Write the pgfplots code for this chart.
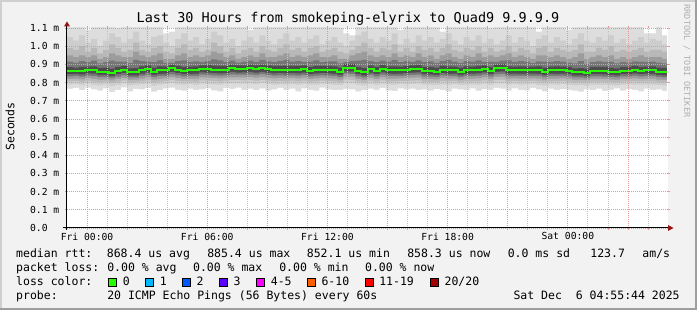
\documentclass[border=0pt]{standalone}
\usepackage{pgfplots}
\pgfplotsset{compat=1.18}
\usepackage{pgfplotstable}
\usepackage{fontspec}
\setmainfont{DejaVu Sans Mono}
\usetikzlibrary{arrows.meta}

\definecolor{bg}{RGB}{242,242,242}
\definecolor{shA}{RGB}{207,207,207}
\definecolor{shB}{RGB}{158,158,158}
\definecolor{mgrid}{RGB}{232,150,150}
\definecolor{mingrid}{RGB}{195,195,195}
\definecolor{arrowc}{RGB}{150,20,20}
\definecolor{wm}{RGB}{175,175,175}
\definecolor{s1}{RGB}{221,221,221}
\definecolor{s2}{RGB}{205,205,205}
\definecolor{s3}{RGB}{184,184,184}
\definecolor{s4}{RGB}{156,156,156}
\definecolor{s5}{RGB}{118,118,118}
\definecolor{s6}{RGB}{76,76,76}
\definecolor{medc}{RGB}{38,255,0}
\definecolor{lA}{RGB}{38,255,0}
\definecolor{lB}{RGB}{0,184,255}
\definecolor{lC}{RGB}{0,89,255}
\definecolor{lD}{RGB}{94,0,255}
\definecolor{lE}{RGB}{255,0,255}
\definecolor{lF}{RGB}{255,94,0}
\definecolor{lG}{RGB}{255,0,0}
\definecolor{lH}{RGB}{161,0,0}

\newcommand\titlef{\fontsize{13.5}{14}\selectfont}
\newcommand\legf{\fontsize{11.5}{12}\selectfont}
\newcommand\axf{\fontsize{9.7}{10}\selectfont}
\newcommand\wmf{\fontsize{8.5}{9}\selectfont}

\pgfplotstableread{
x med t1 t2 t3 t4 t5 t6 b6 b5 b4 b3 b2 b1
-1.0 .864 1.12 1.05 .99 .95 .915 .885 .846 .834 .820 .806 .790 .765
-0.7 .864 1.12 1.03 .98 .94 .910 .882 .848 .836 .822 .808 .792 .770
-0.4 .864 1.12 1.06 1.00 .95 .918 .886 .845 .832 .818 .804 .786 .758
-0.1 .867 1.09 1.02 .97 .94 .912 .888 .850 .838 .824 .810 .795 .772
0.2 .867 1.12 1.04 .99 .95 .920 .889 .849 .835 .820 .805 .789 .762
0.5 .860 1.12 1.00 .96 .93 .905 .880 .842 .830 .816 .802 .785 .755
0.8 .860 1.12 1.03 .98 .94 .912 .882 .843 .831 .818 .805 .790 .768
1.1 .853 1.12 1.07 1.01 .96 .920 .876 .836 .826 .812 .798 .780 .748
1.4 .864 1.10 1.05 .99 .95 .915 .886 .846 .833 .819 .804 .787 .760
1.7 .871 1.12 1.02 .97 .94 .915 .892 .852 .840 .826 .812 .796 .774
2.0 .856 1.12 1.04 .98 .94 .908 .878 .839 .828 .815 .801 .784 .752
2.3 .856 1.12 1.08 1.02 .97 .925 .879 .840 .829 .816 .803 .788 .765
2.6 .867 1.12 1.03 .98 .95 .918 .889 .849 .836 .821 .806 .790 .763
2.9 .875 1.12 1.01 .97 .94 .915 .895 .856 .843 .828 .812 .795 .770
3.2 .860 1.12 1.05 .99 .95 .912 .882 .842 .830 .816 .801 .783 .750
3.5 .867 1.12 1.06 1.00 .96 .922 .889 .848 .835 .820 .805 .788 .758
3.8 .867 1.07 1.02 .97 .93 .908 .887 .849 .837 .823 .809 .793 .768
4.1 .878 1.08 1.00 .96 .93 .910 .897 .858 .845 .830 .814 .797 .772
4.4 .871 1.12 1.04 .99 .95 .918 .892 .852 .839 .824 .808 .790 .760
4.7 .864 1.12 1.07 1.01 .96 .922 .886 .846 .834 .820 .806 .789 .755
5.0 .867 1.12 1.03 .98 .94 .914 .888 .848 .836 .822 .807 .791 .766
5.3 .867 1.12 1.05 .99 .95 .916 .889 .849 .836 .821 .805 .787 .758
5.6 .875 1.12 1.01 .97 .94 .913 .895 .856 .843 .828 .812 .794 .762
5.9 .875 1.12 1.04 .98 .95 .918 .896 .855 .842 .827 .811 .793 .768
6.2 .871 1.12 1.08 1.02 .97 .928 .893 .852 .839 .824 .808 .790 .757
6.5 .871 1.12 1.06 1.00 .96 .922 .892 .851 .838 .823 .807 .788 .752
6.8 .871 1.12 1.02 .97 .94 .912 .891 .852 .840 .826 .811 .795 .770
7.1 .878 1.12 1.04 .99 .95 .920 .898 .858 .845 .829 .813 .795 .765
7.4 .875 1.12 1.00 .96 .93 .910 .894 .855 .843 .828 .813 .796 .772
7.7 .875 1.12 1.03 .98 .94 .915 .895 .856 .843 .828 .812 .794 .760
8.0 .878 1.09 1.05 .99 .95 .920 .898 .858 .845 .830 .814 .796 .766
8.3 .875 1.12 1.02 .97 .94 .914 .895 .855 .842 .827 .811 .793 .758
8.6 .878 1.12 1.06 1.00 .96 .924 .899 .859 .846 .831 .815 .797 .768
8.9 .875 1.12 1.03 .98 .94 .916 .895 .855 .842 .826 .810 .792 .755
9.2 .871 1.12 1.01 .97 .94 .912 .891 .851 .838 .823 .807 .789 .762
9.5 .871 1.12 1.04 .99 .95 .918 .892 .852 .839 .824 .808 .790 .770
9.8 .871 1.12 1.07 1.01 .96 .925 .893 .851 .838 .823 .807 .789 .758
10.1 .871 1.12 1.03 .98 .94 .915 .891 .852 .840 .825 .810 .793 .766
10.4 .871 1.12 1.05 .99 .95 .918 .892 .851 .838 .823 .806 .788 .752
10.7 .875 1.12 1.02 .97 .94 .914 .895 .855 .842 .827 .811 .794 .768
11.0 .864 1.12 1.04 .99 .95 .915 .886 .846 .834 .820 .805 .788 .760
11.3 .871 1.12 1.06 1.00 .96 .922 .892 .851 .838 .823 .807 .789 .756
11.6 .871 1.12 1.01 .97 .94 .912 .891 .852 .840 .825 .810 .794 .772
11.9 .871 1.12 1.03 .98 .94 .916 .892 .851 .838 .823 .808 .791 .762
12.2 .867 1.12 1.05 .99 .95 .917 .889 .848 .836 .821 .806 .789 .758
12.5 .860 1.10 1.02 .97 .93 .906 .882 .842 .830 .816 .802 .786 .760
12.8 .882 1.07 1.00 .96 .93 .912 .901 .862 .849 .833 .816 .797 .765
13.1 .882 1.06 1.03 .98 .95 .918 .902 .862 .848 .832 .815 .796 .762
13.4 .864 1.12 1.06 1.00 .96 .920 .886 .846 .834 .820 .805 .788 .752
13.7 .856 1.12 1.08 1.02 .97 .925 .879 .839 .828 .815 .801 .785 .758
14.0 .875 1.12 1.04 .99 .95 .918 .895 .855 .842 .827 .811 .793 .766
14.3 .864 1.12 1.02 .97 .94 .912 .886 .846 .834 .820 .805 .788 .760
14.6 .875 1.12 1.05 .99 .95 .920 .896 .856 .843 .828 .812 .794 .770
14.9 .867 1.12 1.03 .98 .94 .915 .889 .849 .837 .822 .807 .790 .757
15.2 .867 1.12 1.07 1.01 .96 .924 .889 .848 .836 .821 .806 .789 .754
15.5 .867 1.09 1.01 .97 .94 .912 .888 .849 .837 .823 .809 .793 .768
15.8 .871 1.12 1.04 .99 .95 .918 .892 .852 .839 .824 .808 .790 .762
16.1 .875 1.12 1.02 .97 .94 .914 .895 .855 .842 .827 .811 .793 .766
16.4 .875 1.12 1.06 1.00 .96 .922 .896 .856 .843 .828 .812 .794 .759
16.7 .864 1.12 1.03 .98 .94 .914 .886 .846 .834 .820 .805 .788 .762
17.0 .864 1.12 1.05 .99 .95 .916 .886 .845 .833 .819 .804 .787 .756
17.3 .860 1.12 1.02 .97 .93 .908 .882 .842 .831 .817 .803 .787 .764
17.6 .871 1.08 1.04 .99 .95 .918 .892 .852 .839 .824 .808 .790 .760
17.9 .867 1.12 1.07 1.01 .96 .924 .889 .848 .836 .821 .806 .789 .752
18.2 .867 1.12 1.03 .98 .94 .915 .888 .849 .837 .823 .808 .791 .766
18.5 .860 1.12 1.01 .97 .93 .908 .882 .842 .830 .816 .802 .786 .762
18.8 .867 1.12 1.05 .99 .95 .918 .889 .848 .836 .821 .806 .789 .758
19.1 .867 1.12 1.03 .98 .94 .915 .888 .849 .837 .822 .807 .790 .768
19.4 .871 1.12 1.06 1.00 .96 .922 .892 .851 .838 .823 .807 .789 .755
19.7 .875 1.12 1.02 .97 .94 .914 .895 .856 .843 .828 .812 .794 .764
20.0 .864 1.10 1.04 .99 .95 .915 .886 .846 .834 .820 .805 .788 .760
20.3 .878 1.12 1.01 .97 .94 .914 .898 .858 .845 .830 .814 .796 .770
20.6 .882 1.12 1.03 .98 .95 .920 .902 .862 .848 .832 .815 .796 .766
20.9 .867 1.12 1.06 1.00 .96 .922 .889 .848 .836 .821 .806 .789 .756
21.2 .867 1.12 1.02 .97 .94 .913 .888 .849 .837 .823 .808 .792 .768
21.5 .867 1.12 1.05 .99 .95 .918 .889 .848 .836 .821 .806 .789 .760
21.8 .867 1.12 1.03 .98 .94 .915 .888 .849 .837 .822 .807 .790 .757
22.1 .867 1.12 1.00 .96 .93 .908 .887 .849 .837 .823 .809 .794 .770
22.4 .867 1.08 1.04 .99 .95 .917 .889 .848 .836 .821 .806 .789 .762
22.7 .860 1.12 1.06 1.00 .95 .915 .882 .842 .830 .816 .802 .785 .752
23.0 .867 1.12 1.02 .97 .94 .913 .888 .849 .837 .822 .807 .790 .766
23.3 .867 1.12 1.05 .99 .95 .918 .889 .848 .836 .821 .806 .789 .758
23.6 .867 1.12 1.03 .98 .94 .915 .888 .849 .837 .823 .808 .791 .764
23.9 .864 1.09 1.01 .97 .93 .910 .886 .846 .834 .820 .805 .788 .760
24.2 .856 1.12 1.04 .98 .94 .906 .878 .839 .828 .815 .801 .785 .756
24.5 .856 1.12 1.07 1.01 .96 .918 .879 .840 .829 .816 .802 .786 .750
24.8 .853 1.12 1.03 .97 .93 .902 .876 .836 .826 .813 .799 .783 .762
25.1 .864 1.12 1.02 .97 .94 .912 .886 .846 .834 .820 .805 .788 .758
25.4 .864 1.12 1.05 .99 .95 .916 .886 .846 .834 .820 .805 .788 .766
25.7 .864 1.12 1.03 .98 .94 .914 .886 .845 .833 .819 .804 .787 .754
26.0 .860 1.12 1.06 1.00 .95 .915 .882 .842 .830 .816 .802 .786 .760
26.3 .856 1.12 1.02 .97 .93 .905 .878 .839 .828 .815 .801 .785 .768
26.6 .864 1.12 1.04 .98 .94 .913 .886 .846 .834 .820 .805 .788 .756
26.9 .864 1.12 1.01 .97 .93 .910 .886 .846 .834 .820 .806 .790 .764
27.2 .871 1.12 1.03 .98 .94 .916 .892 .851 .838 .823 .807 .789 .760
27.5 .864 1.12 1.05 .99 .95 .915 .886 .846 .834 .820 .805 .788 .752
27.8 .867 1.07 1.02 .97 .94 .913 .888 .849 .837 .822 .807 .790 .766
28.1 .867 1.07 1.04 .98 .94 .915 .889 .848 .836 .821 .806 .789 .758
28.4 .860 1.12 1.03 .98 .94 .910 .882 .842 .830 .816 .802 .786 .762
28.7 .858 1.06 1.01 .97 .93 .906 .880 .840 .829 .815 .801 .785 .754
28.95 .858 1.06 1.01 .97 .93 .906 .880 .840 .829 .815 .801 .785 .754
}\smoke

\begin{document}
\begin{tikzpicture}[x=1pt,y=1pt]
\begin{scope}[shift={(-67pt,-82pt)}]
\useasboundingbox (0,0) rectangle (697,310);
\fill[bg] (0,0) rectangle (697,310);
\fill[shA] (0,308) rectangle (697,310);
\fill[shA] (0,0) rectangle (2,310);
\fill[shB] (0,0) rectangle (697,2);
\fill[shB] (695,0) rectangle (697,310);
\fill[white] (67,82) rectangle (668,282);
\end{scope}

\begin{axis}[
  width=601pt, height=200pt, scale only axis,
  xmin=-1, xmax=29, ymin=0, ymax=1.1,
  axis line style={draw=none},
  axis on top,
  clip=true,
  xtick={0,3,6,9,12,15,18,21,24,27},
  xticklabels={Fri 00:00,,Fri 06:00,,Fri 12:00,,Fri 18:00,,Sat 00:00,},
  minor xtick={1,2,4,5,7,8,10,11,13,14,16,17,19,20,22,23,25,26,28},
  ytick={0,0.1,0.2,0.3,0.4,0.5,0.6,0.7,0.8,0.9,1.0,1.1},
  yticklabels={0.0\phantom{xm},0.1 m,0.2 m,0.3 m,0.4 m,0.5 m,0.6 m,0.7 m,0.8 m,0.9 m,1.0 m,1.1 m},
  xmajorgrids, xminorgrids, ymajorgrids,
  major grid style={mgrid, line width=0.8pt, dash pattern=on 1pt off 1pt},
  minor grid style={mingrid, line width=0.8pt, dash pattern=on 1pt off 1pt},
  tick align=outside,
  major tick length=2pt, minor tick length=2pt,
  every tick/.style={mgrid, line width=0.8pt},
  xticklabel style={font=\axf, inner sep=0pt, anchor=north, yshift=-2.5pt},
  yticklabel style={font=\axf, inner sep=0pt, anchor=east, xshift=-5.5pt},
]
\addplot[const plot, fill=s1, draw=none] table[x=x,y=t1]{\smoke} \closedcycle;
\addplot[const plot, fill=s2, draw=none] table[x=x,y=t2]{\smoke} \closedcycle;
\addplot[const plot, fill=s3, draw=none] table[x=x,y=t3]{\smoke} \closedcycle;
\addplot[const plot, fill=s4, draw=none] table[x=x,y=t4]{\smoke} \closedcycle;
\addplot[const plot, fill=s5, draw=none] table[x=x,y=t5]{\smoke} \closedcycle;
\addplot[const plot, fill=s6, draw=none] table[x=x,y=t6]{\smoke} \closedcycle;
\addplot[const plot, fill=s5, draw=none] table[x=x,y=b6]{\smoke} \closedcycle;
\addplot[const plot, fill=s4, draw=none] table[x=x,y=b5]{\smoke} \closedcycle;
\addplot[const plot, fill=s3, draw=none] table[x=x,y=b4]{\smoke} \closedcycle;
\addplot[const plot, fill=s2, draw=none] table[x=x,y=b3]{\smoke} \closedcycle;
\addplot[const plot, fill=s1, draw=none] table[x=x,y=b2]{\smoke} \closedcycle;
\addplot[const plot, fill=white, draw=none] table[x=x,y=b1]{\smoke} \closedcycle;
\addplot[const plot, draw=medc, line width=2pt] table[x=x,y=med]{\smoke};
\end{axis}

\begin{scope}[shift={(-67pt,-82pt)}]
% axis lines and arrows
\draw[black, line width=1pt] (63,82) -- (669,82);
\draw[black, line width=1pt] (67,80) -- (67,285);
\fill[arrowc] (668,79) -- (673.5,82) -- (668,85) -- cycle;
\fill[arrowc] (64,283.5) -- (67,288.5) -- (70,283.5) -- cycle;

% title, labels, watermark
\node[font=\titlef, anchor=base, inner sep=0pt] at (348,287) {Last 30 Hours from smokeping-elyrix to Quad9 9.9.9.9};
\node[font=\legf, rotate=90, inner sep=0pt] at (10,183.5) {Seconds};
\node[font=\wmf, text=wm, rotate=-90, inner sep=0pt] at (687,249) {RRDTOOL / TOBI OETIKER};

% legend
\begin{scope}[every node/.style={font=\legf, anchor=base west, inner sep=0pt}]
\node at (16,52) {median rtt:};
\node at (106.7,52) {868.4 us avg};
\node at (207.1,52) {885.4 us max};
\node at (306.7,52) {852.1 us min};
\node at (407.1,52) {858.3 us now};
\node at (507.6,52) {0.0 ms sd};
\node at (590.2,52) {123.7};
\node at (642.2,52) {am/s};
\node at (16,38) {packet loss:};
\node at (107.1,38) {0.00 \% avg};
\node at (192.9,38) {0.00 \% max};
\node at (279.1,38) {0.00 \% min};
\node at (364.9,38) {0.00 \% now};
\node at (16,24) {loss color:};
\node at (122.7,24) {0};
\node at (159.6,24) {1};
\node at (196.4,24) {2};
\node at (233.3,24) {3};
\node at (270.7,24) {4-5};
\node at (321.3,24) {6-10};
\node at (379.1,24) {11-19};
\node at (444.4,24) {20/20};
\node at (16,10) {probe:};
\node at (107.1,10) {20 ICMP Echo Pings (56 Bytes) every 60s};
\node at (513.3,10) {Sat Dec~~6 04:55:44 2025};
\end{scope}
\begin{scope}[line width=0.7pt]
\filldraw[fill=lA, draw=black] (108.4,24) rectangle ++(8,8);
\filldraw[fill=lB, draw=black] (145.3,24) rectangle ++(8,8);
\filldraw[fill=lC, draw=black] (182.2,24) rectangle ++(8,8);
\filldraw[fill=lD, draw=black] (219.6,24) rectangle ++(8,8);
\filldraw[fill=lE, draw=black] (256.4,24) rectangle ++(8,8);
\filldraw[fill=lF, draw=black] (307.6,24) rectangle ++(8,8);
\filldraw[fill=lG, draw=black] (365.3,24) rectangle ++(8,8);
\filldraw[fill=lH, draw=black] (430.2,24) rectangle ++(8,8);
\end{scope}
\end{scope}
\end{tikzpicture}
\end{document}
